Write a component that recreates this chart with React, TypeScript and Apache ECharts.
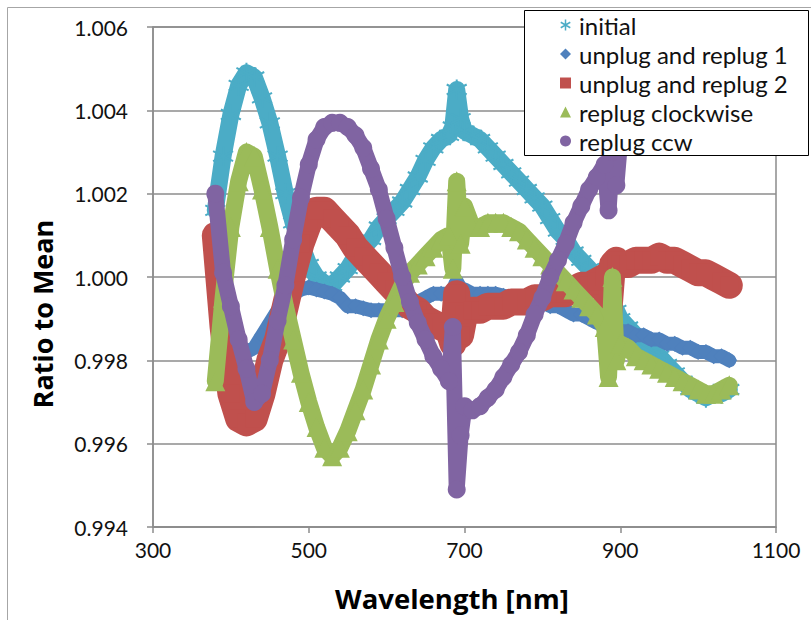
import React, { useEffect, useRef } from "react";
import * as echarts from "echarts";

// Wavelength grid (nm) shared by every series
const WAVELENGTH = [
  380, 390, 400, 410, 420, 430, 440, 450, 460, 470, 480, 490, 500, 510, 520, 530, 540, 550, 560, 570,
  580, 590, 600, 610, 620, 630, 640, 650, 660, 670, 680, 685, 690, 695, 700, 710, 720, 730, 740, 750,
  760, 770, 780, 790, 800, 810, 820, 830, 840, 850, 860, 870, 880, 885, 890, 895, 900, 910, 920, 930,
  940, 950, 960, 970, 980, 990, 1000, 1010, 1020, 1030, 1040,
];

const INITIAL = [
  1.0016, 1.0029, 1.0039, 1.0046, 1.0049, 1.0048, 1.0043, 1.0037, 1.0029, 1.002, 1.0013, 1.0008, 1.0003, 1.0, 0.99985, 0.9998, 1.0, 1.0002, 1.0005, 1.0007,
  1.0009, 1.0012, 1.0014, 1.0016, 1.0018, 1.0021, 1.0024, 1.0028, 1.0031, 1.0033, 1.0034, 1.0036, 1.0045, 1.0038, 1.0035, 1.0034, 1.0033, 1.0031, 1.0029, 1.0027,
  1.0025, 1.0023, 1.0021, 1.0019, 1.0017, 1.0014, 1.0011, 1.0009, 1.0006, 1.0004, 1.0002, 0.9999, 0.9996, 0.9995, 0.9993, 0.9992, 0.999, 0.9988, 0.9986, 0.9984,
  0.9982, 0.9981, 0.9979, 0.9977, 0.9975, 0.9973, 0.9972, 0.9971, 0.9972, 0.9972, 0.9973,
];

const UNPLUG_1 = [
  0.9995, 0.9991, 0.9987, 0.9984, 0.9982, 0.9983, 0.9986, 0.9989, 0.9992, 0.9994, 0.9996, 0.9997, 0.99975, 0.9997, 0.99965, 0.9996, 0.9995, 0.9993, 0.9993, 0.99925,
  0.9992, 0.9992, 0.9992, 0.9992, 0.9992, 0.9993, 0.9994, 0.9995, 0.9996, 0.9996, 0.9996, 0.9997, 0.9999, 0.9997, 0.9997, 0.9996, 0.9996, 0.9996, 0.9996, 0.99955,
  0.9995, 0.9995, 0.9995, 0.9994, 0.9994, 0.9993, 0.9993, 0.9992, 0.9991, 0.9991, 0.999, 0.9989, 0.9989, 0.9989, 0.9988, 0.9988, 0.9987, 0.9987, 0.9986, 0.9986,
  0.9985, 0.9985, 0.9984, 0.9984, 0.9983, 0.9983, 0.9982, 0.9982, 0.9981, 0.9981, 0.998,
];

const UNPLUG_2 = [
  1.001, 0.9988, 0.9972, 0.9966, 0.9965, 0.9966, 0.9972, 0.998, 0.9985, 0.9993, 1.0001, 1.0008, 1.0013, 1.0016, 1.0016, 1.0014, 1.0012, 1.001, 1.0007, 1.0005,
  1.0003, 1.0001, 0.9999, 0.9997, 0.9995, 0.9993, 0.9992, 0.999, 0.9989, 0.9988, 0.9987, 0.9984, 0.9996, 0.9986, 0.9991, 0.9992, 0.9992, 0.9993, 0.9993, 0.9993,
  0.9994, 0.9994, 0.9994, 0.9995, 0.9995, 0.9996, 0.9996, 0.9996, 0.9997, 0.9998, 0.9998, 0.9999, 1.0, 0.9991, 1.0003, 1.0004, 1.0003, 1.0003, 1.0004, 1.0004,
  1.0004, 1.0005, 1.0004, 1.0004, 1.0003, 1.0002, 1.0001, 1.0001, 1.0, 0.9999, 0.9998,
];

const CLOCKWISE = [
  0.9975, 0.9995, 1.0012, 1.0023, 1.003, 1.0029, 1.0021, 1.0012, 1.0002, 0.9993, 0.9985, 0.9977, 0.997, 0.9964, 0.9959, 0.9957, 0.9959, 0.9963, 0.9968, 0.9973,
  0.9979, 0.9985, 0.999, 0.9994, 0.9998, 1.0001, 1.0003, 1.0005, 1.0007, 1.0009, 1.001, 1.0002, 1.0023, 1.0008, 1.0017, 1.0012, 1.0012, 1.0013, 1.0013, 1.0013,
  1.0012, 1.0011, 1.0009, 1.0007, 1.0005, 1.0003, 1.0001, 0.9999, 0.9997, 0.9995, 0.9993, 0.9991, 0.9988, 0.9976, 1.0, 0.998, 0.9984, 0.9983, 0.9981, 0.998,
  0.9979, 0.9978, 0.9977, 0.9976, 0.9975, 0.9974, 0.9973, 0.9972, 0.9972, 0.9973, 0.9974,
];

const CCW = [
  1.002, 1.0001, 0.9993, 0.9985, 0.9978, 0.997, 0.9972, 0.998, 0.99895, 0.9998, 1.0009, 1.0019, 1.0027, 1.0033, 1.0036, 1.0037, 1.0037, 1.0036, 1.0034, 1.0031,
  1.0026, 1.0021, 1.0014, 1.0007, 1.0, 0.9994, 0.9989, 0.9985, 0.9981, 0.9978, 0.9975, 0.9988, 0.9949, 0.9962, 0.9969, 0.9968, 0.9969, 0.9971, 0.9973, 0.9976,
  0.9979, 0.9982, 0.9986, 0.9991, 0.9995, 1.0, 1.0004, 1.0008, 1.0013, 1.0017, 1.0021, 1.0024, 1.0027, 1.0016, 1.003, 1.0022, 1.0033, 1.0036, null, null,
  null, null, null, null, null, null, null, null, null, null, null,
];

const X_MIN = 300;
const X_MAX = 1100;
const X_STEP = 200;
const Y_MIN = 0.994;
const Y_MAX = 1.006;
const Y_STEP = 0.002;

const ASTERISK = "path://M10,0L10,20M1.34,5L18.66,15M1.34,15L18.66,5";

const SERIES_DEFS = [
  { name: "initial", values: INITIAL, color: "#4BACC6", symbol: ASTERISK, size: 20, width: 17, border: 2 },
  { name: "unplug and replug 1", values: UNPLUG_1, color: "#4F81BD", symbol: "diamond", size: 16, width: 14, border: 0 },
  { name: "unplug and replug 2", values: UNPLUG_2, color: "#C0504D", symbol: "rect", size: 18, width: 27, border: 0 },
  { name: "replug clockwise", values: CLOCKWISE, color: "#9BBB59", symbol: "triangle", size: 20, width: 17, border: 0 },
  { name: "replug ccw", values: CCW, color: "#8064A2", symbol: "circle", size: 18, width: 16, border: 0 },
];

const FONT = "Lato, 'Open Sans', sans-serif";
const TITLE_FONT = "'Open Sans', Lato, sans-serif";

export default function App() {
  const ref = useRef<HTMLDivElement>(null);

  useEffect(() => {
    if (!ref.current) return;
    const chart = echarts.init(ref.current, undefined, { renderer: "svg" });

    const series = SERIES_DEFS.map((s, idx) => ({
      name: s.name,
      type: "line",
      z: 2 + idx * 2,
      data: WAVELENGTH.map((x, i) => (s.values[i] == null ? null : [x, s.values[i]])).filter((d) => d !== null),
      symbol: s.symbol,
      symbolSize: s.size,
      showSymbol: true,
      itemStyle: { color: s.color, borderColor: s.color, borderWidth: s.border },
      lineStyle: { color: s.color, width: s.width, join: "round", cap: "round" },
      emphasis: { disabled: true },
    }));

    chart.setOption({
      animation: false,
      backgroundColor: "#ffffff",
      grid: {
        left: 153,
        right: 35,
        top: 27,
        bottom: 93,
        show: true,
        borderColor: "#8C8C8C",
        borderWidth: 1.5,
        backgroundColor: "transparent",
      },
      xAxis: {
        type: "value",
        min: X_MIN,
        max: X_MAX,
        interval: X_STEP,
        axisLine: { show: true, lineStyle: { color: "#8C8C8C", width: 1.5 } },
        axisTick: { show: true, inside: false, length: 6, lineStyle: { color: "#8C8C8C", width: 1.5 } },
        splitLine: { show: false },
        axisLabel: {
          color: "#111",
          fontFamily: FONT,
          fontSize: 21,
          margin: 12,
          formatter: (v: number) => String(v),
        },
      },
      yAxis: {
        type: "value",
        min: Y_MIN,
        max: Y_MAX,
        interval: Y_STEP,
        axisLine: { show: true, lineStyle: { color: "#8C8C8C", width: 1.5 } },
        axisTick: { show: true, inside: false, length: 6, lineStyle: { color: "#8C8C8C", width: 1.5 } },
        splitLine: { show: true, lineStyle: { color: "#8C8C8C", width: 1.5 } },
        axisLabel: {
          color: "#111",
          fontFamily: FONT,
          fontSize: 21,
          margin: 25,
          formatter: (v: number) => v.toFixed(3),
        },
      },
      legend: {
        orient: "vertical",
        left: 560,
        top: 13,
        padding: 0,
        itemWidth: 11,
        itemHeight: 11,
        itemGap: 5,
        selectedMode: false,
        z: 60,
        textStyle: { fontFamily: FONT, fontSize: 24, color: "#111", lineHeight: 24, padding: [0, 0, 0, 3] },
        data: SERIES_DEFS.map((s) => ({
          name: s.name,
          icon: s.symbol,
          itemStyle: { color: s.color, borderColor: s.color, borderWidth: s.border ? 1.5 : 0 },
        })),
      },
      graphic: [
        {
          type: "line",
          z: 1,
          shape: { x1: 7.5, y1: 7.5, x2: 811, y2: 7.5 },
          style: { stroke: "#A6A6A6", lineWidth: 1 },
        },
        {
          type: "line",
          z: 1,
          shape: { x1: 7.5, y1: 7.5, x2: 7.5, y2: 620 },
          style: { stroke: "#A6A6A6", lineWidth: 1 },
        },
        {
          type: "rect",
          z: 50,
          shape: { x: 524.5, y: 10.5, width: 284, height: 145 },
          style: { fill: "#ffffff", stroke: "#000000", lineWidth: 1 },
        },
        {
          type: "text",
          z: 60,
          x: 42,
          y: 314,
          rotation: Math.PI / 2,
          style: {
            text: "Ratio to Mean",
            fontFamily: TITLE_FONT,
            fontWeight: "bold",
            fontSize: 27,
            fill: "#000",
            textAlign: "center",
            textVerticalAlign: "middle",
          },
        },
        {
          type: "text",
          z: 60,
          x: 452,
          y: 598,
          style: {
            text: "Wavelength [nm]",
            fontFamily: TITLE_FONT,
            fontWeight: "bold",
            fontSize: 27.5,
            fill: "#000",
            textAlign: "center",
            textVerticalAlign: "middle",
          },
        },
      ],
      series,
    });

    return () => {
      chart.dispose();
    };
  }, []);

  return (
    <div
      ref={ref}
      style={{ position: "fixed", left: 0, top: 0, width: 811, height: 620, background: "#fff" }}
    />
  );
}
